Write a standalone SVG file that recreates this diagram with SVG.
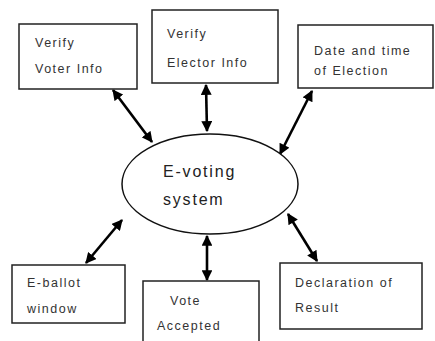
<svg xmlns="http://www.w3.org/2000/svg" width="435" height="341" viewBox="0 0 435 341">
  <style>
    .box { fill: #fff; stroke: #222; stroke-width: 1.5; }
    .lbl { font-family: "Liberation Sans", Arial, sans-serif; font-size: 12.5px; letter-spacing: 1.5px; fill: #333; }
    .big { font-family: "Liberation Sans", Arial, sans-serif; font-size: 16px; letter-spacing: 1.8px; fill: #222; }
    .link { stroke: #000; stroke-width: 2.6; fill: none; marker-start: url(#head); marker-end: url(#head); }
  </style>
  <defs>
    <marker id="head" viewBox="0 0 10 10" refX="9" refY="5" markerWidth="4.4" markerHeight="4.2" orient="auto-start-reverse" markerUnits="strokeWidth">
      <path d="M0,0 L10,5 L0,10 Z" fill="#000"/>
    </marker>
  </defs>

  <rect width="435" height="341" fill="#fff"/>

  <!-- connectors: double-headed links between the system and each function -->
  <g id="connectors">
    <line class="link" x1="113" y1="90" x2="152" y2="142"/>
    <line class="link" x1="206" y1="85" x2="207" y2="131"/>
    <line class="link" x1="312" y1="91" x2="280" y2="154"/>
    <line class="link" x1="86" y1="263" x2="122" y2="220"/>
    <line class="link" x1="207" y1="236" x2="207" y2="280"/>
    <line class="link" x1="288" y1="214" x2="317" y2="261"/>
  </g>

  <g id="system">
    <ellipse cx="210" cy="184" rx="88" ry="50" fill="#fff" stroke="#111" stroke-width="1.5"/>
    <text class="big" x="163" y="177">E-voting</text>
    <text class="big" x="163" y="205">system</text>
  </g>

  <g id="verify-voter">
    <rect class="box" x="19" y="24" width="118" height="65"/>
    <text class="lbl" x="35" y="47">Verify</text>
    <text class="lbl" x="35" y="73">Voter Info</text>
  </g>

  <g id="verify-elector">
    <rect class="box" x="152" y="10" width="126" height="73"/>
    <text class="lbl" x="167" y="38">Verify</text>
    <text class="lbl" x="167" y="67">Elector Info</text>
  </g>

  <g id="date-time">
    <rect class="box" x="298" y="25" width="135" height="63"/>
    <text class="lbl" x="314" y="55">Date and time</text>
    <text class="lbl" x="314" y="75">of Election</text>
  </g>

  <g id="e-ballot">
    <rect class="box" x="12" y="265" width="113" height="58"/>
    <text class="lbl" x="27" y="287">E-ballot</text>
    <text class="lbl" x="27" y="313">window</text>
  </g>

  <g id="vote-accepted">
    <rect class="box" x="143" y="281" width="116" height="70"/>
    <text class="lbl" x="170" y="305">Vote</text>
    <text class="lbl" x="157" y="330">Accepted</text>
  </g>

  <g id="declaration">
    <rect class="box" x="280" y="263" width="142" height="66"/>
    <text class="lbl" x="295" y="287">Declaration of</text>
    <text class="lbl" x="295" y="312">Result</text>
  </g>
</svg>
